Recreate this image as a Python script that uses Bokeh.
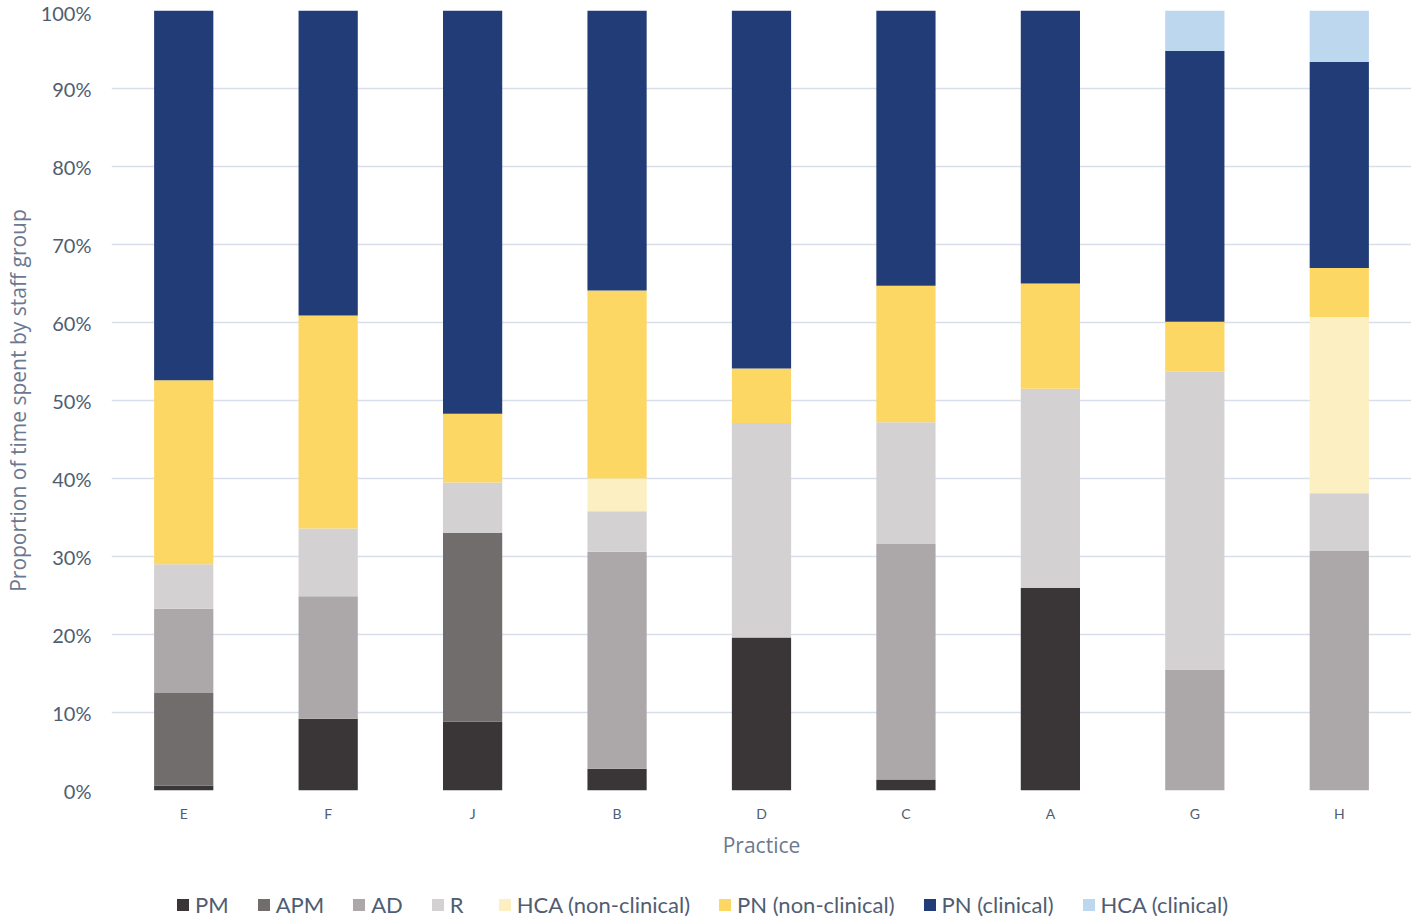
from bokeh.plotting import figure
from bokeh.models import ColumnDataSource, FactorRange, NumeralTickFormatter, SingleIntervalTicker, Legend, LegendItem, Range1d
from bokeh.layouts import column
from bokeh.embed import file_html
from bokeh.resources import INLINE

practices = ["E", "F", "J", "B", "D", "C", "A", "G", "H"]
series = ["PM", "APM", "AD", "R", "HCA (non-clinical)", "PN (non-clinical)", "PN (clinical)", "HCA (clinical)"]

pm      = [0.6, 9.2, 8.8, 2.8, 19.6, 1.4, 26.0, 0.0, 0.0]
apm     = [11.9, 0.0, 24.2, 0.0, 0.0, 0.0, 0.0, 0.0, 0.0]
ad      = [10.8, 15.7, 0.0, 27.8, 0.0, 30.2, 0.0, 15.5, 30.7]
r       = [5.7, 8.7, 6.5, 5.2, 27.5, 15.6, 25.5, 38.2, 7.4]
hca_nc  = [0.0, 0.0, 0.0, 4.2, 0.0, 0.0, 0.0, 0.0, 22.6]
pn_nc   = [23.6, 27.3, 8.8, 24.1, 7.0, 17.5, 13.5, 6.4, 6.3]
pn_c    = [47.4, 39.1, 51.7, 35.9, 45.9, 35.3, 35.0, 34.7, 26.4]
hca_c   = [0.0, 0.0, 0.0, 0.0, 0.0, 0.0, 0.0, 5.2, 6.6]

colors = ["#3a3637", "#726d6d", "#aca7a8", "#d4d1d2", "#fcefc2", "#fdd764", "#223c77", "#bcd7ee"]

values = [pm, apm, ad, r, hca_nc, pn_nc, pn_c, hca_c]
data = {"practice": practices}
for name, vals in zip(series, values):
    data[name] = [v / 100.0 for v in vals]
source = ColumnDataSource(data)

FONT = "Lato"
TXT = "#4f5d72"
TITLE = "#6b7890"

p = figure(x_range=FactorRange(*practices), y_range=(0, 1),
           frame_width=1300, frame_height=780,
           output_backend="svg", toolbar_location=None,
           min_border_left=0, min_border_right=0, min_border_top=10, min_border_bottom=82)

p.vbar_stack(series, x="practice", width=0.41, source=source,
             color=colors, line_color=None)

p.outline_line_color = None
p.xgrid.grid_line_color = None
p.ygrid.grid_line_color = "#d9dfea"
p.ygrid.grid_line_width = 1.5
p.yaxis.ticker = SingleIntervalTicker(interval=0.1)
p.yaxis.formatter = NumeralTickFormatter(format="0%")
p.yaxis.axis_line_color = None
p.yaxis.major_tick_line_color = None
p.yaxis.minor_tick_line_color = None
p.yaxis.major_label_text_font = FONT
p.yaxis.major_label_text_font_size = "20px"
p.yaxis.major_label_text_color = TXT
p.yaxis.major_label_standoff = 14
p.yaxis.axis_label = "Proportion of time spent by staff group"
p.yaxis.axis_label_text_font = "Open Sans"
p.yaxis.axis_label_text_font_style = "normal"
p.yaxis.axis_label_text_font_size = "21px"
p.yaxis.axis_label_text_color = TITLE
p.yaxis.axis_label_standoff = 6

p.xaxis.axis_line_color = None
p.xaxis.major_tick_line_color = None
p.xaxis.major_label_text_font = FONT
p.xaxis.major_label_text_font_size = "14px"
p.xaxis.major_label_text_color = TXT
p.xaxis.major_label_standoff = 8
p.xaxis.axis_label = "Practice"
p.xaxis.axis_label_text_font = "Open Sans"
p.xaxis.axis_label_text_font_style = "normal"
p.xaxis.axis_label_text_font_size = "21px"
p.xaxis.axis_label_text_color = TITLE
p.xaxis.axis_label_standoff = 6

# legend strip below the chart: same stacked series, drawn outside its visible range
lf = figure(width=1410, height=46, output_backend="svg", toolbar_location=None,
            x_axis_type=None, y_axis_type=None,
            x_range=FactorRange(*practices), y_range=Range1d(2, 3),
            min_border=0)
lf.outline_line_color = None
lf.grid.grid_line_color = None
leg_renderers = lf.vbar_stack(series, x="practice", width=0.41, source=source,
                              color=colors, line_color=None)
items = [LegendItem(label=name, renderers=[rr]) for name, rr in zip(series, leg_renderers)]
leg = Legend(items=items, orientation="horizontal", location=(64, 0),
             border_line_color=None, background_fill_alpha=0,
             label_text_font=FONT, label_text_font_size="22px", label_text_color=TXT,
             glyph_width=15, glyph_height=15, label_standoff=5, spacing=27,
             margin=0, padding=0)
lf.add_layout(leg, "center")

open("out.html", "w").write(file_html(column(p, lf, spacing=0), INLINE))
